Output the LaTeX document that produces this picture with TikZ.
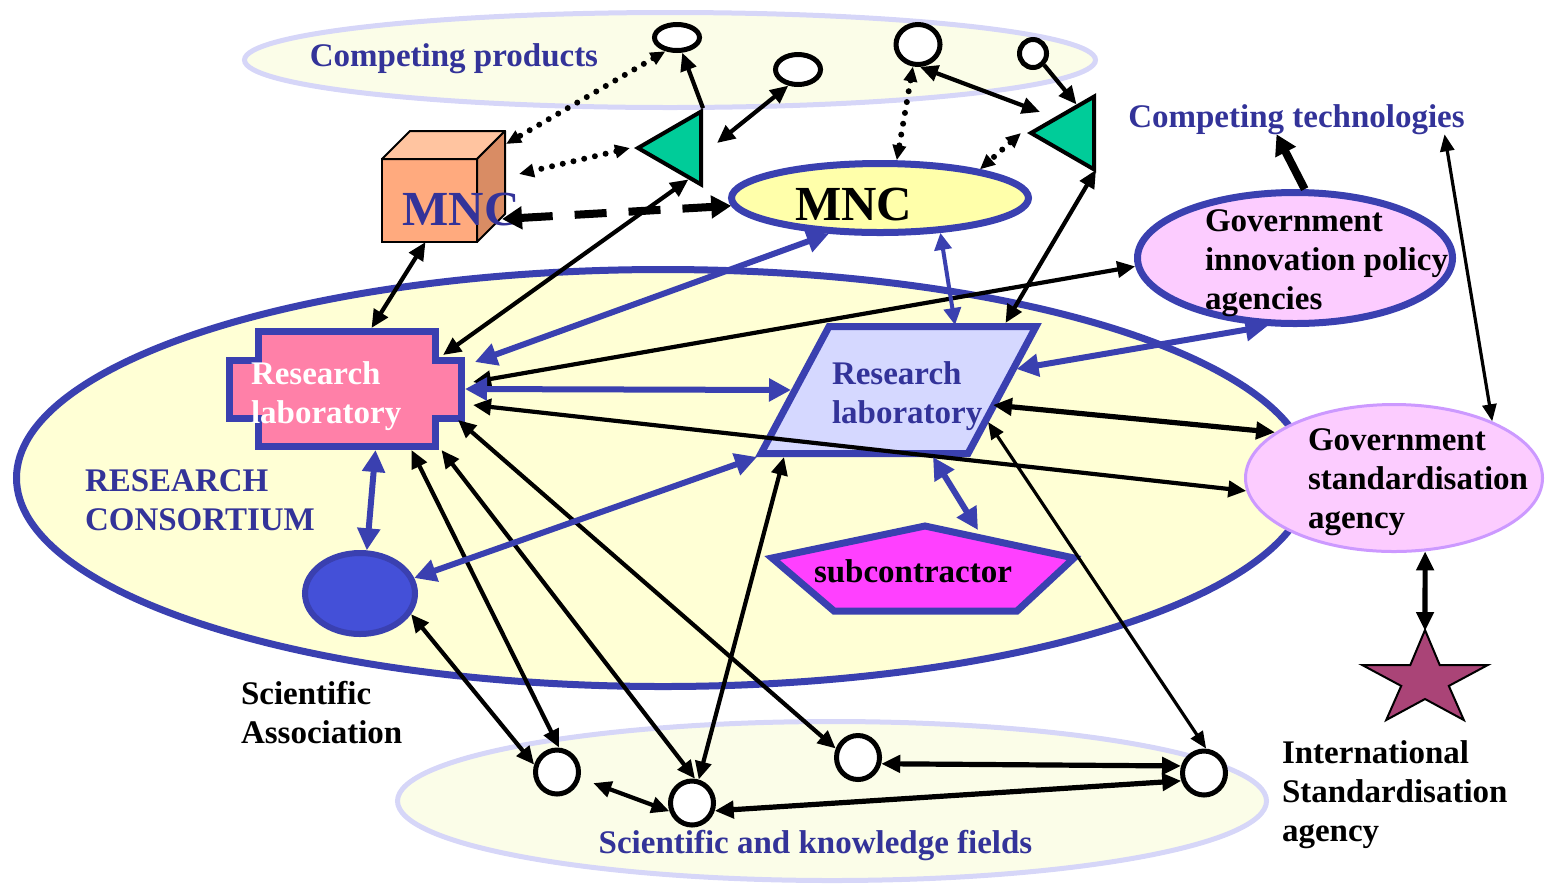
\documentclass[tikz,border=0pt]{standalone}
\usepackage{fontspec}
\setmainfont{Liberation Serif}
\usetikzlibrary{arrows.meta,shapes.geometric,calc}

\definecolor{bord}{HTML}{3A40B0}
\definecolor{navytext}{HTML}{333399}
\definecolor{consfill}{HTML}{FFFFD5}
\definecolor{palefill}{HTML}{FBFDE8}
\definecolor{paleline}{HTML}{D6D6F8}
\definecolor{mncyellow}{HTML}{FFFFAA}
\definecolor{cubefront}{HTML}{FFAA7E}
\definecolor{cubetop}{HTML}{FFC4A0}
\definecolor{cubeside}{HTML}{D98C64}
\definecolor{techgreen}{HTML}{00CC99}
\definecolor{labpink}{HTML}{FF80A8}
\definecolor{lablav}{HTML}{D5D8FF}
\definecolor{submag}{HTML}{FF40FF}
\definecolor{govpink}{HTML}{FCCCFF}
\definecolor{stdline}{HTML}{CC99FF}
\definecolor{assocblue}{HTML}{4450D8}
\definecolor{starred}{HTML}{AA4477}

\begin{document}
\begin{tikzpicture}[x=0.5pt,y=-0.5pt,
  font=\fontsize{16.5}{19.5}\selectfont\bfseries,
  lbl/.style={inner sep=0pt, outer sep=0pt, align=left},
  field/.style={ellipse, draw=paleline, fill=palefill, line width=2.5pt, inner sep=0pt},
  consortium/.style={ellipse, draw=bord, fill=consfill, line width=3.5pt, inner sep=0pt},
  dotnode/.style={ellipse, draw=black, fill=white, line width=2.5pt, inner sep=0pt},
  techtri/.style={regular polygon, regular polygon sides=3, shape border rotate=90,
    draw=black, fill=techgreen, line width=2pt, inner sep=0pt, minimum size=42pt},
  blueellipse/.style={ellipse, draw=bord, line width=3.5pt, inner sep=0pt},
  frame/.style={inner sep=0pt, outer sep=0pt},
  blk/.style={draw=black, line width=2.1pt, >={Triangle[length=9pt,width=8pt]}},
  blkthin/.style={draw=black, line width=1.6pt, >={Triangle[length=8.5pt,width=7pt]}},
  blkthick/.style={draw=black, line width=2.6pt, >={Triangle[length=9.5pt,width=8.5pt]}},
  boldarrow/.style={draw=black, line width=4pt, >={Triangle[length=10pt,width=11pt]}},
  bluearrow/.style={draw=bord, line width=3pt, >={Triangle[length=11pt,width=11pt]}},
  bluethin/.style={draw=bord, line width=2pt, >={Triangle[length=8.5pt,width=8.5pt]}},
  dotarrow/.style={draw=black, line width=3pt, dash pattern=on 0pt off 5.5pt, line cap=round,
    >={Triangle[length=7.5pt,width=6.5pt]}},
  dasharrow/.style={draw=black, line width=4pt, dash pattern=on 16pt off 11pt,
    >={Triangle[length=10pt,width=11pt]}}
]
\useasboundingbox (0,0) rectangle (1545,885);

% background fields
\node[field, minimum width=425.5pt, minimum height=47.5pt] (prodfield) at (670,60) {};
\node[field, minimum width=434.5pt, minimum height=79.5pt] (scifield) at (832,801) {};
\node[consortium, minimum width=646.5pt, minimum height=208.5pt] (consort) at (663,478) {};

% multinational firms
\node[draw=black, fill=cubefront, line width=1pt, inner sep=0pt, outer sep=0pt,
  minimum width=47.5pt, minimum height=41.5pt] (cubeF) at (429.5,200.5) {};
\draw[fill=cubetop, line width=1pt, line join=round] (cubeF.north west) -- ++(28,-28) -- ++(95,0) -- (cubeF.north east) -- cycle;
\draw[fill=cubeside, line width=1pt, line join=round] (cubeF.north east) -- ++(28,-28) -- ++(0,83) -- (cubeF.south east) -- cycle;
\node[blueellipse, fill=mncyellow, minimum width=148.5pt, minimum height=34.5pt] (mncB) at (880,198) {};

% technologies and products
\node[techtri] (tri1) at (680,148) {};
\node[techtri] (tri2) at (1073,133) {};
\node[dotnode, minimum width=22.5pt, minimum height=13pt] (c1) at (677,37.5) {};
\node[dotnode, minimum width=22.5pt, minimum height=15pt] (c2) at (798,69.5) {};
\node[dotnode, minimum width=22pt, minimum height=20pt] (c3) at (918,44.5) {};
\node[dotnode, minimum width=13.5pt, minimum height=14pt] (c4) at (1033,53.5) {};

% research laboratories
\draw[fill=labpink, draw=bord, line width=3.5pt]
  (258.5,331.5) -- (435.5,331.5) -- (435.5,360.5) -- (461.5,360.5) -- (461.5,418.5)
  -- (435.5,418.5) -- (435.5,446.5) -- (258.5,446.5) -- (258.5,418.5) -- (229.5,418.5)
  -- (229.5,360.5) -- (258.5,360.5) -- cycle;
\node[frame, minimum width=119.5pt, minimum height=61pt] (lab1) at (345.5,389) {};
\draw[fill=lablav, draw=bord, line width=3.5pt]
  (829,326.5) -- (1036,326.5) -- (968,453.5) -- (761,453.5) -- cycle;
\node[frame, minimum width=141pt, minimum height=67pt] (lab2) at (898.5,390) {};

% subcontractor
\node[frame, minimum width=155pt, minimum height=46.5pt] (sub) at (923,568.5) {};
\draw[fill=submag, draw=bord, line width=3.5pt]
  (925,526) -- (1074,558) -- (1017,611) -- (834,611) -- (772,558) -- cycle;

% scientific association
\node[ellipse, draw=bord, fill=assocblue, line width=3pt, inner sep=0pt,
  minimum width=55pt, minimum height=40.5pt] (bdot) at (360,593.5) {};

% government agencies
\node[blueellipse, fill=govpink, minimum width=157.5pt, minimum height=65.5pt] (govI) at (1295,258) {};
\node[ellipse, draw=stdline, fill=govpink, line width=1.5pt, inner sep=0pt,
  minimum width=148.5pt, minimum height=73.5pt] (govS) at (1394,478) {};

% international standardisation agency
\draw[fill=starred, draw=black, line width=1pt, line join=miter]
  (1425,630) -- (1439.7,665) -- (1487.8,665) -- (1448.8,685.9) -- (1463.8,720)
  -- (1425,699) -- (1386.2,720) -- (1401.2,685.9) -- (1362.2,665) -- (1410.3,665) -- cycle;
\coordinate (startip) at (1425,631);

% scientific fields
\node[dotnode, minimum width=21.5pt, minimum height=22pt] (b1) at (557,772) {};
\node[dotnode, minimum width=21.5pt, minimum height=22pt] (b2) at (692,803) {};
\node[dotnode, minimum width=21.5pt, minimum height=22pt] (b3) at (858,757.5) {};
\node[dotnode, minimum width=21.5pt, minimum height=22pt] (b4) at (1204,773) {};

% labels
\node[lbl, text=navytext, anchor=base] (prodtxt) at (454,66) {Competing products};
\node[lbl, text=navytext, anchor=base] (ctech) at (1296.5,127) {Competing technologies};
\node[lbl, text=navytext, anchor=north west] (constxt) at (85,470) {RESEARCH\\CONSORTIUM};
\node[lbl, anchor=north west] (assoctxt) at (241,681) {Scientific\\Association};
\node[lbl, text=navytext, anchor=base] (scitxt) at (815.5,853) {Scientific and knowledge fields};
\node[lbl, anchor=north west] (isotxt) at (1282,741) {International\\Standardisation\\agency};
\node[lbl, anchor=north west] (govItxt) at (1205,210) {Government\\innovation policy\\agencies};
\node[lbl, anchor=north west] (govStxt) at (1308,429) {Government\\standardisation\\agency};
\node[lbl, text=white, anchor=north west] (lab1txt) at (251,362) {Research\\laboratory};
\node[lbl, text=navytext, anchor=north west] (lab2txt) at (832,362) {Research\\laboratory};
\node[lbl, anchor=base] (subtxt) at (913,582) {subcontractor};
\node[lbl, text=navytext, font=\fontsize{24.5}{29}\selectfont\bfseries, anchor=base] (cubetxt) at (461,225) {MNC};
\node[lbl, font=\fontsize{24.5}{29}\selectfont\bfseries, anchor=base] (mncBtxt) at (853.5,220) {MNC};

% links around the firms
\draw[blk,<->] ([shift={(-4,0)}]cubeF.south) -- ([shift={(26,0)}]lab1.north);
\draw[blk,<->] ([shift={(-22,27)}]lab1.north east) -- (tri1.-75);
\draw[blk,->] (tri1.corner 3) -- (c1.-71);
\draw[blk,<->] (c2.-121) -- ([shift={(14,-5)}]tri1.east);
\draw[dotarrow,<->] (c1.-130) -- ([shift={(29,-15)}]cubeF.north east);
\draw[dotarrow,<->] ([shift={(-4,0)}]tri1.corner 1) -- ([shift={(42,15)}]cubeF.north east);
\draw[dasharrow,<->] ([shift={(25,60)}]cubeF.north east) -- (mncB.183);
\draw[blk,<->] (c3.-85) -- ([shift={(13,-21)}]tri2.corner 1);
\draw[blk,->] (c4.-46) -- (tri2.83);
\draw[dotarrow,<->] (c3.-103) -- (mncB.66);
\draw[dotarrow,<->] ([shift={(-6,0)}]tri2.corner 1) -- (mncB.16);
\draw[blk,<->] (tri2.-58) -- ([shift={(107,-67)}]lab2.center);

% links to the government agencies
\draw[boldarrow,->] (govI.82) -- ([shift={(-20,0)}]ctech.south);
\draw[blkthin,<->] ([shift={(148,0)}]ctech.south) -- (govS.30);
\draw[blk,<->] ([shift={(8,-7)}]lab1.east) -- (govI.183);
\draw[blk,<->] ([shift={(8,16)}]lab1.east) -- (govS.185);
\draw[blkthick,<->] ([shift={(94.5,15)}]lab2.center) -- (govS.159.5);
\draw[blkthick,<->] (govS.-67) -- (startip);

% links to the scientific fields
\draw[blkthin,<->] ([shift={(89.5,32)}]lab2.center) -- (b4.85);
\draw[blkthick,<->] (b3.-15) -- (b4.163);
\draw[blkthick,<->] (b2.-19) -- (b4.199);
\draw[blk,<->,shorten <=7pt] (b1.-15) -- (b2.200);
\draw[blk,<->] (bdot.-22) -- (b1.162);
\draw[blk,<->] ([shift={(66,0)}]lab1.south) -- (b1.85);
\draw[blk,<->] ([shift={(96,0)}]lab1.south) -- (b2.83);
\draw[blk,<->] ([shift={(-7,31)}]lab1.east) -- (b3.158);
\draw[blk,<->] ([shift={(-114.5,67)}]lab2.center) -- (b2.74);

% links inside the consortium
\draw[bluearrow,<->] ([shift={(10,34)}]lab1.north east) -- (mncB.-145);
\draw[bluearrow,<->] (lab1.east) -- ([shift={(-107.5,0)}]lab2.center);
\draw[bluearrow,<->] ([shift={(-141.5,67)}]lab2.center) -- (bdot.16);
\draw[bluearrow,<->] ([shift={(30,0)}]lab1.south) -- (bdot.81);
\draw[bluethin,<->] (mncB.-30) -- ([shift={(56.5,-65)}]lab2.center);
\draw[bluearrow,<->] ([shift={(118,-21)}]lab2.center) -- (govI.-112);
\draw[bluearrow,<->] ([shift={(34.5,67)}]lab2.center) -- ([shift={(55,8)}]sub.north);
\end{tikzpicture}
\end{document}
